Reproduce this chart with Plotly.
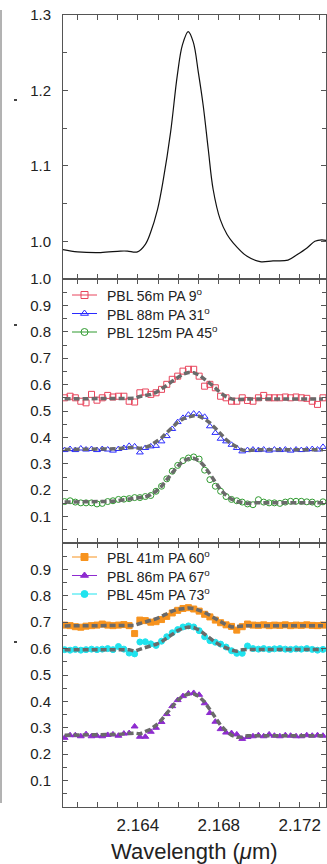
import plotly.graph_objects as go

# ---------------- data ----------------
# top panel: flux spectrum
flux_wl = [2.16029, 2.16102, 2.16216, 2.16314, 2.16349, 2.16398, 2.16437, 2.16462, 2.16497,
           2.16526, 2.16562, 2.16595, 2.16620, 2.16649, 2.16674, 2.16699, 2.16723, 2.16748,
           2.16772, 2.16807, 2.16841, 2.16871, 2.16940, 2.17004, 2.17068, 2.17142, 2.17186,
           2.17236, 2.17275, 2.17309, 2.17334]
flux = [0.989, 0.986, 0.985, 0.987, 0.987, 0.986, 0.996, 1.011, 1.042, 1.082, 1.145, 1.220,
        1.260, 1.278, 1.264, 1.224, 1.180, 1.122, 1.069, 1.029, 1.009, 0.998, 0.980, 0.973,
        0.974, 0.975, 0.982, 0.991, 1.000, 1.002, 1.001]

# spectral channels of the visibilities
wl = [2.16038, 2.16065, 2.16091, 2.16118, 2.16144, 2.16171, 2.16198, 2.16224, 2.16251,
      2.16277, 2.16304, 2.16331, 2.16357, 2.16384, 2.16410, 2.16437, 2.16464, 2.16490,
      2.16517, 2.16543, 2.16570, 2.16597, 2.16623, 2.16650, 2.16676, 2.16703, 2.16730,
      2.16756, 2.16783, 2.16809, 2.16836, 2.16863, 2.16889, 2.16916, 2.16942, 2.16969,
      2.16996, 2.17022, 2.17049, 2.17075, 2.17102, 2.17129, 2.17155, 2.17182, 2.17208,
      2.17235, 2.17262, 2.17288, 2.17315]

# middle panel
vis_56 = [0.550, 0.556, 0.550, 0.537, 0.531, 0.563, 0.541, 0.550, 0.559, 0.553, 0.556, 0.556,
          0.537, 0.534, 0.569, 0.572, 0.563, 0.569, 0.582, 0.601, 0.620, 0.632, 0.651, 0.658,
          0.658, 0.632, 0.594, 0.601, 0.588, 0.556, 0.550, 0.537, 0.537, 0.550, 0.540, 0.537,
          0.550, 0.559, 0.550, 0.550, 0.550, 0.553, 0.550, 0.553, 0.550, 0.548, 0.537, 0.525,
          0.550]
fit_56 = [0.546, 0.546, 0.546, 0.546, 0.546, 0.546, 0.546, 0.546, 0.546, 0.546, 0.546, 0.546,
          0.546, 0.548, 0.555, 0.558, 0.563, 0.570, 0.582, 0.597, 0.613, 0.628, 0.640, 0.646,
          0.645, 0.636, 0.622, 0.605, 0.587, 0.568, 0.554, 0.546, 0.543, 0.545, 0.545, 0.545,
          0.545, 0.545, 0.545, 0.545, 0.545, 0.545, 0.545, 0.545, 0.545, 0.545, 0.545, 0.545,
          0.545]
vis_88 = [0.352, 0.356, 0.352, 0.358, 0.354, 0.356, 0.352, 0.356, 0.354, 0.350, 0.356, 0.360,
          0.368, 0.366, 0.343, 0.360, 0.366, 0.368, 0.385, 0.405, 0.432, 0.458, 0.474, 0.486,
          0.490, 0.488, 0.478, 0.442, 0.417, 0.395, 0.385, 0.372, 0.360, 0.347, 0.352, 0.354,
          0.352, 0.354, 0.350, 0.354, 0.352, 0.354, 0.350, 0.354, 0.352, 0.354, 0.356, 0.354,
          0.364]
fit_88 = [0.354, 0.354, 0.354, 0.354, 0.354, 0.354, 0.354, 0.354, 0.354, 0.355, 0.357, 0.360,
          0.362, 0.362, 0.358, 0.362, 0.370, 0.382, 0.398, 0.418, 0.438, 0.457, 0.470, 0.478,
          0.482, 0.480, 0.470, 0.455, 0.435, 0.412, 0.392, 0.375, 0.362, 0.352, 0.350, 0.353,
          0.353, 0.353, 0.353, 0.353, 0.353, 0.353, 0.353, 0.353, 0.353, 0.353, 0.353, 0.353,
          0.353]
vis_125 = [0.157, 0.160, 0.155, 0.152, 0.152, 0.152, 0.148, 0.150, 0.157, 0.160, 0.165, 0.166,
           0.168, 0.172, 0.172, 0.176, 0.180, 0.196, 0.215, 0.243, 0.272, 0.294, 0.312, 0.322,
           0.326, 0.318, 0.276, 0.240, 0.215, 0.196, 0.176, 0.165, 0.160, 0.155, 0.148, 0.145,
           0.164, 0.155, 0.152, 0.152, 0.150, 0.155, 0.158, 0.158, 0.158, 0.156, 0.155, 0.148,
           0.156]
fit_125 = [0.155, 0.155, 0.155, 0.155, 0.155, 0.155, 0.155, 0.155, 0.155, 0.158, 0.161, 0.164,
           0.166, 0.168, 0.170, 0.175, 0.183, 0.196, 0.215, 0.240, 0.267, 0.291, 0.309, 0.319,
           0.321, 0.312, 0.290, 0.260, 0.230, 0.202, 0.181, 0.166, 0.157, 0.152, 0.150, 0.152,
           0.152, 0.152, 0.152, 0.152, 0.152, 0.152, 0.152, 0.152, 0.152, 0.152, 0.152, 0.152,
           0.152]

# bottom panel
vis_41 = [0.689, 0.687, 0.683, 0.681, 0.685, 0.687, 0.689, 0.693, 0.689, 0.687, 0.689, 0.691,
          0.687, 0.657, 0.708, 0.706, 0.700, 0.702, 0.710, 0.722, 0.735, 0.745, 0.752, 0.755,
          0.750, 0.742, 0.730, 0.720, 0.708, 0.698, 0.690, 0.684, 0.670, 0.683, 0.693, 0.689,
          0.688, 0.690, 0.687, 0.689, 0.688, 0.690, 0.687, 0.689, 0.688, 0.690, 0.688, 0.687,
          0.689]
fit_41 = [0.686, 0.686, 0.686, 0.686, 0.686, 0.686, 0.686, 0.686, 0.686, 0.686, 0.686, 0.686,
          0.686, 0.688, 0.695, 0.700, 0.706, 0.713, 0.722, 0.732, 0.742, 0.749, 0.753, 0.754,
          0.752, 0.746, 0.737, 0.726, 0.713, 0.700, 0.690, 0.682, 0.684, 0.687, 0.687, 0.687,
          0.687, 0.687, 0.687, 0.687, 0.687, 0.687, 0.687, 0.687, 0.687, 0.687, 0.687, 0.687,
          0.687]
vis_86 = [0.262, 0.272, 0.272, 0.268, 0.276, 0.268, 0.270, 0.268, 0.273, 0.275, 0.270, 0.278,
          0.280, 0.305, 0.266, 0.266, 0.285, 0.300, 0.322, 0.352, 0.382, 0.405, 0.420, 0.430,
          0.432, 0.425, 0.393, 0.356, 0.323, 0.295, 0.282, 0.280, 0.275, 0.258, 0.265, 0.268,
          0.272, 0.268, 0.275, 0.270, 0.268, 0.272, 0.270, 0.268, 0.268, 0.272, 0.270, 0.272,
          0.270]
fit_86 = [0.272, 0.272, 0.272, 0.272, 0.272, 0.272, 0.272, 0.272, 0.273, 0.274, 0.275, 0.277,
          0.279, 0.280, 0.277, 0.285, 0.295, 0.310, 0.330, 0.355, 0.382, 0.405, 0.420, 0.428,
          0.428, 0.418, 0.398, 0.370, 0.340, 0.310, 0.288, 0.272, 0.264, 0.265, 0.270, 0.270,
          0.270, 0.270, 0.270, 0.270, 0.270, 0.270, 0.270, 0.270, 0.270, 0.270, 0.270, 0.270,
          0.270]
vis_45 = [0.596, 0.594, 0.597, 0.594, 0.596, 0.598, 0.596, 0.598, 0.600, 0.596, 0.608, 0.598,
          0.583, 0.580, 0.625, 0.626, 0.618, 0.612, 0.628, 0.645, 0.660, 0.672, 0.682, 0.686,
          0.682, 0.668, 0.645, 0.630, 0.624, 0.617, 0.606, 0.592, 0.582, 0.582, 0.610, 0.600,
          0.598, 0.600, 0.597, 0.599, 0.600, 0.598, 0.597, 0.599, 0.598, 0.600, 0.597, 0.594,
          0.597]
fit_45 = [0.596, 0.596, 0.596, 0.596, 0.596, 0.596, 0.596, 0.596, 0.596, 0.596, 0.596, 0.596,
          0.596, 0.590, 0.598, 0.604, 0.610, 0.616, 0.626, 0.640, 0.655, 0.668, 0.677, 0.682,
          0.680, 0.670, 0.655, 0.638, 0.624, 0.612, 0.602, 0.594, 0.590, 0.596, 0.597, 0.597,
          0.597, 0.597, 0.597, 0.597, 0.597, 0.597, 0.597, 0.597, 0.597, 0.597, 0.597, 0.597,
          0.597]

x_ticks = [2.164, 2.168, 2.172]
x_ticktext = ["2.164", "2.168", "2.172"]
top_ticks = [1.0, 1.1, 1.2, 1.3]
top_ticktext = ["1.0", "1.1", "1.2", "1.3"]
mid_ticks = [0.1, 0.2, 0.3, 0.4, 0.5, 0.6, 0.7, 0.8, 0.9, 1.0]
mid_ticktext = ["0.1", "0.2", "0.3", "0.4", "0.5", "0.6", "0.7", "0.8", "0.9", "1.0"]
bot_ticks = [0.1, 0.2, 0.3, 0.4, 0.5, 0.6, 0.7, 0.8, 0.9]
bot_ticktext = ["0.1", "0.2", "0.3", "0.4", "0.5", "0.6", "0.7", "0.8", "0.9"]

mid_series = [
    ("PBL 56m PA 9<sup>o</sup>", vis_56, fit_56, "#e8455c", "square-open"),
    ("PBL 88m PA 31<sup>o</sup>", vis_88, fit_88, "#2a2aff", "triangle-up-open"),
    ("PBL 125m PA 45<sup>o</sup>", vis_125, fit_125, "#2f9a2f", "circle-open"),
]
bot_series = [
    ("PBL 41m PA 60<sup>o</sup>", vis_41, fit_41, "#f7931e", "square"),
    ("PBL 86m PA 67<sup>o</sup>", vis_86, fit_86, "#8e2bd0", "triangle-up"),
    ("PBL 45m PA 73<sup>o</sup>", vis_45, fit_45, "#1fe3ee", "circle"),
]

FONT = "Liberation Sans, Arial, Helvetica, sans-serif"
AX = "#555555"
FIT = "#6a6a6a"

# figure layout in pixels
W, H = 327, 864
L, R, T, B = 63, 326, 15, 807

fig = go.Figure()
annotations = []

# top panel
fig.add_trace(go.Scatter(x=flux_wl, y=flux, mode="lines", line=dict(color="#111111", width=1.2, shape="spline"),
                         showlegend=False, xaxis="x", yaxis="y"))

def add_panel(series, xa, ya, legend_top):
    for name, vis, fit, color, symbol in series:
        fig.add_trace(go.Scatter(x=wl, y=vis, mode="markers",
                                 marker=dict(symbol=symbol, size=6, color=color, line=dict(color=color, width=1)),
                                 showlegend=False, xaxis=xa, yaxis=ya))
    for name, vis, fit, color, symbol in series:
        fig.add_trace(go.Scatter(x=wl, y=fit, mode="lines",
                                 line=dict(color=FIT, width=3.5, dash="6px,3px"),
                                 showlegend=False, xaxis=xa, yaxis=ya))
    # hand-built legend on a pixel overlay axis (x4/y4)
    for k, (name, vis, fit, color, symbol) in enumerate(series):
        yy = legend_top + 18.5 * k
        fig.add_trace(go.Scatter(x=[72, 97], y=[yy, yy], mode="lines", line=dict(color=color, width=1),
                                 showlegend=False, hoverinfo="skip", xaxis="x4", yaxis="y4"))
        fig.add_trace(go.Scatter(x=[84.5], y=[yy], mode="markers",
                                 marker=dict(symbol=symbol, size=7, color=color, line=dict(color=color, width=1)),
                                 showlegend=False, hoverinfo="skip", xaxis="x4", yaxis="y4"))
        annotations.append(dict(text=name, xref="x4", yref="y4", x=105, y=yy, xanchor="left", yanchor="middle",
                                showarrow=False, font=dict(family=FONT, size=14, color="#222222")))

add_panel(mid_series, "x2", "y2", 295)
add_panel(bot_series, "x3", "y3", 557)

def xax(anchor, labels):
    return dict(domain=[0, 1], anchor=anchor, range=[2.1603, 2.1733], showline=True, linecolor=AX, linewidth=1,
                mirror="ticks", ticks="inside", ticklen=5, tickcolor=AX, tickvals=x_ticks, ticktext=x_ticktext,
                showticklabels=labels, minor=dict(dtick=0.001, tick0=2.161, ticks="inside", ticklen=5, tickcolor=AX),
                showgrid=False, zeroline=False, ticklabelstandoff=3,
                tickfont=dict(family=FONT, size=17, color="#222222"))

def yax(anchor, dom, rng, vals, text):
    return dict(domain=dom, anchor=anchor, range=rng, showline=True, linecolor=AX, linewidth=1,
                mirror="ticks", ticks="inside", ticklen=5, tickcolor=AX, tickvals=vals, ticktext=text,
                minor=dict(dtick=0.05, tick0=0, ticks="inside", ticklen=4, tickcolor=AX),
                showgrid=False, zeroline=False, ticklabelstandoff=8,
                tickfont=dict(family=FONT, size=15, color="#222222"))

annotations.append(dict(text="Wavelength (<i>μ</i>m)", xref="paper", yref="paper", x=0.5, y=-0.0565,
                        xanchor="center", yanchor="middle", showarrow=False,
                        font=dict(family=FONT, size=22, color="#222222")))

fig.update_layout(
    width=W, height=H,
    margin=dict(l=L, r=W - R, t=T, b=H - B),
    paper_bgcolor="white", plot_bgcolor="rgba(0,0,0,0)",
    font=dict(family=FONT, color="#222222"),
    showlegend=False,
    xaxis=xax("y", False), xaxis2=xax("y2", False), xaxis3=xax("y3", True),
    yaxis=yax("x", [2 / 3, 1], [0.95, 1.3], top_ticks, top_ticktext),
    yaxis2=yax("x2", [1 / 3, 2 / 3], [0, 1], mid_ticks, mid_ticktext),
    yaxis3=yax("x3", [0, 1 / 3], [0, 1], bot_ticks, bot_ticktext),
    xaxis4=dict(domain=[0, 1], anchor="y4", range=[L, R], visible=False, fixedrange=True),
    yaxis4=dict(domain=[0, 1], anchor="x4", range=[B, T], visible=False, fixedrange=True),
    annotations=annotations,
    shapes=[
        dict(type="line", xref="paper", yref="paper", x0=(1 - L) / (R - L), x1=(1 - L) / (R - L),
             y0=(B - 10) / (B - T), y1=(B - 803) / (B - T), line=dict(color="#666666", width=1)),
        dict(type="line", xref="paper", yref="paper", x0=(14 - L) / (R - L), x1=(17 - L) / (R - L),
             y0=(B - 100) / (B - T), y1=(B - 100) / (B - T), line=dict(color="#444444", width=2)),
        dict(type="line", xref="paper", yref="paper", x0=(14 - L) / (R - L), x1=(17 - L) / (R - L),
             y0=(B - 325) / (B - T), y1=(B - 325) / (B - T), line=dict(color="#444444", width=2)),
        dict(type="line", xref="paper", yref="paper", x0=(14 - L) / (R - L), x1=(17 - L) / (R - L),
             y0=(B - 642) / (B - T), y1=(B - 642) / (B - T), line=dict(color="#444444", width=2)),
    ],
)

fig.write_html("out.html")
